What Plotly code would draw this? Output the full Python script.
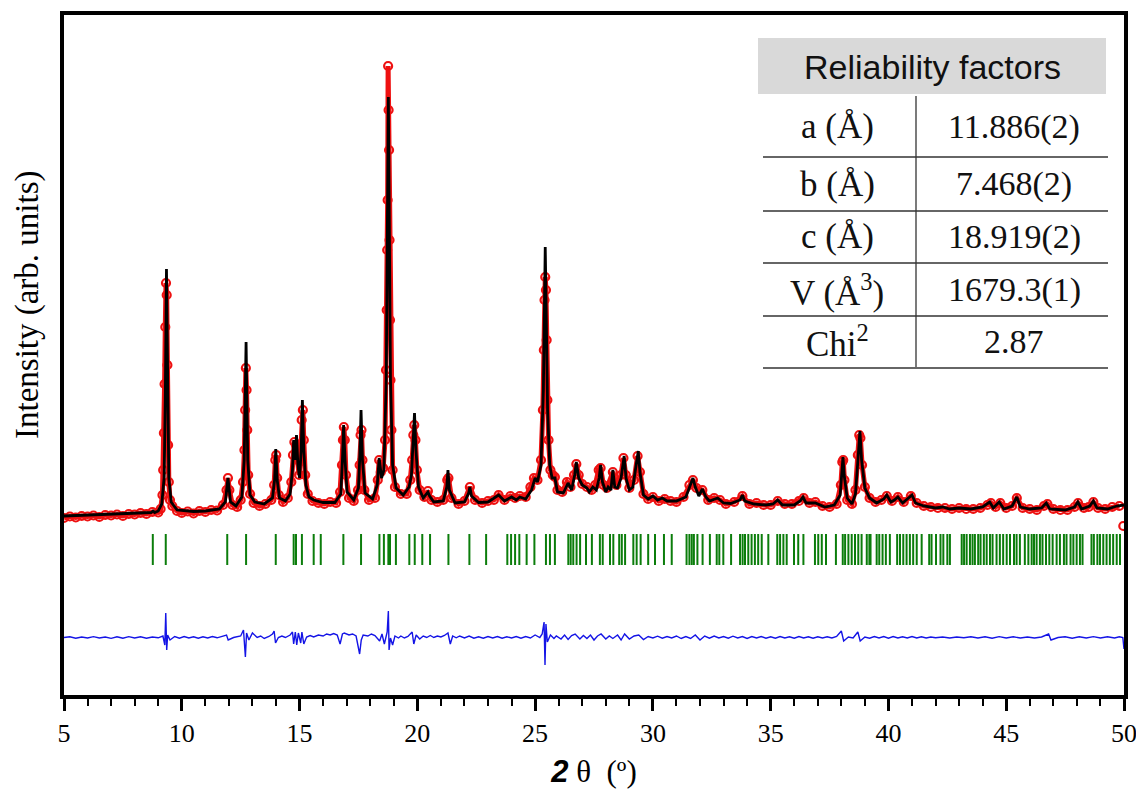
import plotly.graph_objects as go

# ---------------- data ----------------
# calculated profile: (2theta, intensity)
calc_points = [
    (5.0, 40), (6.0, 50), (7.0, 55), (8.0, 65), (8.7, 75), (8.78, 90), (8.85, 75), (9.0, 90),
    (9.15, 160), (9.25, 420), (9.30, 1200), (9.35, 2510), (9.40, 1200), (9.45, 420), (9.55, 180),
    (9.8, 100), (10.5, 85), (11.0, 90), (11.6, 110), (11.85, 180), (11.96, 420), (12.07, 180),
    (12.3, 140), (12.55, 230), (12.65, 600), (12.73, 1780), (12.80, 600), (12.9, 250), (13.1, 180),
    (13.5, 160), (13.85, 220), (13.94, 400), (13.99, 710), (14.05, 400), (14.15, 220), (14.4, 190),
    (14.6, 260), (14.70, 500), (14.75, 800), (14.80, 600), (14.87, 850), (14.93, 550), (15.0, 420),
    (15.07, 700), (15.12, 1200), (15.18, 700), (15.27, 350), (15.4, 230), (15.6, 200), (16.0, 175),
    (16.5, 175), (16.75, 260), (16.82, 600), (16.87, 950), (16.93, 600), (17.02, 280), (17.3, 200),
    (17.5, 320), (17.56, 650), (17.61, 1100), (17.67, 600), (17.78, 270), (18.1, 210), (18.3, 350),
    (18.38, 620), (18.48, 420), (18.58, 500), (18.68, 1400), (18.74, 3300), (18.77, 4230),
    (18.80, 3300), (18.86, 1400), (18.95, 550), (19.1, 320), (19.4, 250), (19.65, 330), (19.75, 450),
    (19.83, 800), (19.88, 1070), (19.94, 700), (20.05, 330), (20.25, 220), (20.40, 260), (20.45, 280),
    (20.52, 240), (20.7, 180), (21.1, 190), (21.25, 330), (21.30, 500), (21.36, 300), (21.6, 170),
    (22.0, 180), (22.18, 270), (22.23, 330), (22.3, 240), (22.6, 175), (23.0, 180), (23.45, 250),
    (23.7, 190), (24.0, 230), (24.2, 200), (24.35, 230), (24.6, 210), (24.85, 300), (25.0, 420),
    (25.1, 380), (25.25, 550), (25.35, 1300), (25.40, 2200), (25.43, 2730), (25.47, 2100),
    (25.53, 1100), (25.62, 550), (25.72, 420), (25.84, 420), (25.95, 280), (26.2, 270), (26.4, 370),
    (26.55, 300), (26.68, 450), (26.75, 580), (26.85, 420), (27.0, 350), (27.2, 320), (27.3, 280),
    (27.45, 330), (27.6, 300), (27.72, 420), (27.78, 550), (27.86, 380), (28.0, 280), (28.1, 330),
    (28.22, 300), (28.30, 500), (28.38, 330), (28.5, 320), (28.65, 420), (28.72, 550), (28.78, 640),
    (28.86, 420), (29.0, 300), (29.15, 330), (29.3, 560), (29.38, 690), (29.45, 480), (29.6, 250),
    (29.8, 210), (30.0, 240), (30.2, 200), (30.4, 220), (30.6, 190), (31.0, 190), (31.4, 230),
    (31.6, 360), (31.7, 420), (31.8, 330), (31.95, 240), (32.1, 310), (32.25, 230), (32.4, 190),
    (32.75, 220), (33.0, 170), (33.3, 165), (33.7, 200), (33.8, 250), (33.9, 190), (34.3, 160),
    (34.8, 150), (35.1, 160), (35.3, 200), (35.5, 150), (36.0, 150), (36.25, 190), (36.37, 230),
    (36.5, 170), (36.9, 170), (37.3, 130), (37.7, 150), (37.95, 250), (38.03, 500), (38.07, 630),
    (38.12, 450), (38.25, 220), (38.45, 160), (38.6, 260), (38.72, 650), (38.79, 890), (38.86, 600),
    (39.0, 320), (39.2, 220), (39.5, 170), (39.8, 210), (39.93, 250), (40.1, 180), (40.25, 200),
    (40.4, 230), (40.6, 170), (40.85, 220), (41.0, 250), (41.15, 170), (41.5, 140), (42.0, 120),
    (42.3, 130), (42.6, 110), (43.0, 120), (43.5, 110), (44.0, 130), (44.3, 180), (44.45, 120),
    (44.7, 180), (44.9, 110), (45.25, 140), (45.45, 230), (45.6, 130), (46.0, 110), (46.5, 120),
    (46.7, 170), (46.85, 110), (47.5, 100), (47.9, 130), (48.04, 180), (48.2, 110), (48.55, 140),
    (48.7, 190), (48.85, 120), (49.3, 110), (49.7, 140), (50.0, 150),
]

# observed points: (2theta, intensity)
obs_points = [
    (5.0, 20), (5.25, 35), (5.5, 25), (5.75, 40), (6.0, 35), (6.25, 45), (6.5, 30), (6.75, 50),
    (7.0, 45), (7.25, 55), (7.5, 40), (7.75, 60), (8.0, 55), (8.25, 70), (8.5, 60), (8.75, 80),
    (9.0, 75), (9.1, 110), (9.18, 250), (9.21, 500), (9.24, 870), (9.27, 1360), (9.30, 1930),
    (9.33, 2370), (9.36, 2250), (9.39, 1550), (9.42, 750), (9.45, 380), (9.5, 200), (9.6, 140),
    (9.8, 90), (10.0, 70), (10.25, 85), (10.5, 65), (10.75, 90), (11.0, 80), (11.25, 100),
    (11.5, 95), (11.75, 150), (11.90, 300), (11.96, 420), (12.02, 300), (12.15, 150), (12.35, 130),
    (12.5, 200), (12.6, 380), (12.66, 700), (12.69, 1100), (12.72, 1520), (12.75, 1300),
    (12.78, 900), (12.82, 450), (12.9, 260), (13.05, 170), (13.3, 140), (13.55, 160), (13.8, 200),
    (13.92, 350), (13.97, 600), (14.01, 650), (14.05, 420), (14.12, 250), (14.3, 180), (14.5, 220),
    (14.65, 380), (14.72, 650), (14.78, 780), (14.85, 750), (14.92, 600), (14.98, 450),
    (15.04, 650), (15.09, 1000), (15.14, 1100), (15.18, 800), (15.24, 450), (15.35, 260),
    (15.55, 190), (15.8, 170), (16.05, 160), (16.3, 180), (16.55, 170), (16.72, 280), (16.8, 550),
    (16.84, 800), (16.88, 930), (16.92, 800), (16.97, 450), (17.1, 220), (17.3, 190), (17.48, 300),
    (17.55, 550), (17.59, 850), (17.63, 900), (17.67, 600), (17.75, 300), (17.95, 200),
    (18.2, 220), (18.32, 400), (18.38, 600), (18.45, 480), (18.55, 520), (18.63, 800),
    (18.67, 1500), (18.70, 2100), (18.72, 2700), (18.74, 3200), (18.76, 4540), (18.78, 4100),
    (18.80, 3700), (18.82, 2800), (18.84, 2000), (18.86, 1400), (18.9, 900), (18.95, 500),
    (19.05, 330), (19.3, 260), (19.55, 260), (19.7, 400), (19.78, 600), (19.83, 850), (19.87, 950),
    (19.92, 800), (19.98, 500), (20.1, 300), (20.3, 230), (20.45, 290), (20.6, 200), (20.85, 180),
    (21.1, 200), (21.27, 400), (21.32, 420), (21.45, 220), (21.75, 160), (22.0, 190), (22.23, 330),
    (22.45, 200), (22.75, 170), (23.0, 190), (23.25, 200), (23.45, 250), (23.7, 200), (23.95, 240),
    (24.15, 220), (24.35, 240), (24.6, 230), (24.8, 330), (24.95, 420), (25.1, 400), (25.25, 600),
    (25.33, 1100), (25.37, 1700), (25.40, 2200), (25.43, 2430), (25.46, 2300), (25.49, 1800),
    (25.52, 1200), (25.57, 800), (25.65, 500), (25.75, 450), (25.84, 430), (25.95, 300),
    (26.15, 280), (26.35, 380), (26.5, 330), (26.65, 450), (26.75, 560), (26.85, 450), (27.0, 360),
    (27.2, 330), (27.4, 300), (27.55, 350), (27.7, 500), (27.78, 520), (27.9, 350), (28.05, 320),
    (28.3, 480), (28.45, 350), (28.65, 450), (28.75, 620), (28.85, 450), (29.0, 320), (29.2, 400),
    (29.35, 640), (29.45, 480), (29.6, 260), (29.8, 210), (30.0, 230), (30.25, 190), (30.5, 210),
    (30.75, 190), (31.0, 180), (31.3, 230), (31.55, 350), (31.7, 400), (31.85, 320), (32.1, 300),
    (32.35, 200), (32.6, 220), (32.85, 200), (33.1, 160), (33.45, 180), (33.8, 240), (34.1, 160),
    (34.4, 170), (34.7, 150), (35.0, 150), (35.3, 190), (35.6, 160), (35.9, 160), (36.2, 190),
    (36.4, 220), (36.65, 170), (36.9, 180), (37.2, 140), (37.5, 130), (37.8, 160), (37.98, 350),
    (38.04, 580), (38.08, 600), (38.13, 400), (38.25, 200), (38.45, 160), (38.6, 300), (38.7, 650),
    (38.76, 850), (38.81, 820), (38.88, 550), (39.0, 330), (39.2, 220), (39.45, 180), (39.7, 200),
    (39.93, 240), (40.15, 190), (40.4, 230), (40.65, 180), (40.95, 240), (41.2, 170), (41.5, 140),
    (41.8, 130), (42.1, 120), (42.4, 120), (42.7, 110), (43.0, 120), (43.3, 110), (43.6, 110),
    (43.9, 120), (44.2, 150), (44.35, 170), (44.55, 130), (44.75, 170), (45.0, 120), (45.25, 140),
    (45.45, 220), (45.7, 120), (46.0, 110), (46.3, 100), (46.6, 140), (46.75, 160), (47.0, 110),
    (47.3, 100), (47.6, 100), (47.9, 130), (48.05, 170), (48.3, 120), (48.5, 130), (48.7, 180),
    (48.9, 120), (49.2, 110), (49.5, 130), (49.8, 140), (49.97, -60),
]

# difference curve (obs - calc, offset): (2theta, intensity)
diff_points = [
    (5.0, -1175), (5.25, -1168), (5.5, -1182), (5.75, -1170), (6.0, -1180), (6.25, -1166),
    (6.5, -1180), (6.75, -1170), (7.0, -1184), (7.25, -1168), (7.5, -1182), (7.75, -1166),
    (8.0, -1180), (8.25, -1168), (8.5, -1182), (8.75, -1170), (9.0, -1178), (9.2, -1160),
    (9.28, -1250), (9.32, -930), (9.36, -1300), (9.40, -1150), (9.5, -1200), (9.7, -1165),
    (9.9, -1182), (10.1, -1166), (10.3, -1180), (10.5, -1168), (10.7, -1182), (10.9, -1168),
    (11.1, -1180), (11.3, -1166), (11.5, -1178), (11.7, -1165), (11.9, -1150), (11.97, -1200),
    (12.2, -1175), (12.5, -1160), (12.62, -1100), (12.70, -1370), (12.75, -1130), (12.85, -1200),
    (13.0, -1130), (13.2, -1175), (13.35, -1160), (13.5, -1185), (13.7, -1165), (13.85, -1140),
    (13.92, -1110), (13.98, -1230), (14.1, -1175), (14.25, -1160), (14.4, -1175), (14.6, -1150),
    (14.7, -1120), (14.75, -1240), (14.82, -1120), (14.88, -1250), (14.95, -1130), (15.05, -1230),
    (15.1, -1120), (15.18, -1240), (15.3, -1170), (15.45, -1155), (15.6, -1170), (15.8, -1150),
    (16.0, -1160), (16.15, -1140), (16.3, -1150), (16.45, -1135), (16.6, -1150), (16.72, -1240),
    (16.82, -1140), (16.9, -1130), (17.1, -1150), (17.25, -1140), (17.4, -1160), (17.55, -1340),
    (17.62, -1200), (17.7, -1150), (17.9, -1160), (18.05, -1140), (18.2, -1155), (18.4, -1210),
    (18.5, -1140), (18.6, -1240), (18.72, -1120), (18.77, -910), (18.8, -1300), (18.86, -1180),
    (18.95, -1250), (19.05, -1160), (19.2, -1180), (19.3, -1160), (19.45, -1180), (19.6, -1165),
    (19.78, -1120), (19.85, -1240), (19.95, -1150), (20.1, -1190), (20.25, -1160), (20.4, -1175),
    (20.55, -1155), (20.7, -1175), (20.85, -1160), (21.0, -1170), (21.15, -1155), (21.3, -1130),
    (21.4, -1240), (21.5, -1160), (21.65, -1178), (21.8, -1160), (22.0, -1180), (22.2, -1160),
    (22.4, -1182), (22.6, -1168), (22.8, -1182), (23.0, -1165), (23.2, -1180), (23.4, -1165),
    (23.6, -1182), (23.8, -1168), (24.0, -1180), (24.2, -1165), (24.4, -1182), (24.6, -1165),
    (24.8, -1180), (25.0, -1150), (25.2, -1175), (25.3, -1140), (25.38, -1020), (25.42, -1450),
    (25.46, -1040), (25.52, -1220), (25.65, -1150), (25.8, -1185), (25.9, -1160), (26.1, -1190),
    (26.25, -1150), (26.4, -1195), (26.55, -1155), (26.7, -1140), (26.9, -1190), (27.05, -1155),
    (27.2, -1185), (27.35, -1150), (27.5, -1200), (27.65, -1160), (27.8, -1140), (28.0, -1190),
    (28.15, -1160), (28.3, -1185), (28.5, -1150), (28.65, -1200), (28.8, -1140), (29.0, -1190),
    (29.2, -1160), (29.4, -1150), (29.6, -1195), (29.8, -1165), (30.0, -1180), (30.2, -1162),
    (30.4, -1182), (30.6, -1165), (30.8, -1180), (31.0, -1160), (31.2, -1185), (31.4, -1165),
    (31.6, -1185), (31.8, -1150), (32.0, -1200), (32.2, -1160), (32.4, -1182), (32.6, -1160),
    (32.8, -1180), (33.0, -1165), (33.2, -1182), (33.4, -1162), (33.6, -1180), (33.8, -1165),
    (34.0, -1185), (34.2, -1165), (34.4, -1180), (34.6, -1165), (34.8, -1182), (35.0, -1168),
    (35.2, -1182), (35.4, -1165), (35.6, -1180), (35.8, -1168), (36.0, -1182), (36.2, -1166),
    (36.4, -1180), (36.6, -1168), (36.8, -1182), (37.0, -1168), (37.2, -1180), (37.4, -1168),
    (37.6, -1180), (37.8, -1165), (38.0, -1110), (38.1, -1210), (38.3, -1170), (38.5, -1180),
    (38.7, -1120), (38.8, -1210), (39.0, -1170), (39.2, -1182), (39.4, -1166), (39.6, -1180),
    (39.8, -1166), (40.0, -1182), (40.2, -1166), (40.4, -1180), (40.6, -1168), (40.8, -1180),
    (41.0, -1166), (41.2, -1180), (41.4, -1168), (41.6, -1180), (41.8, -1170), (42.0, -1178),
    (42.3, -1170), (42.6, -1180), (42.9, -1170), (43.2, -1178), (43.5, -1168), (43.8, -1180),
    (44.1, -1168), (44.4, -1182), (44.7, -1166), (45.0, -1180), (45.3, -1168), (45.6, -1180),
    (45.9, -1170), (46.2, -1180), (46.5, -1170), (46.8, -1140), (46.9, -1200), (47.2, -1175),
    (47.5, -1168), (47.8, -1182), (48.1, -1168), (48.4, -1180), (48.7, -1166), (49.0, -1180),
    (49.3, -1168), (49.6, -1180), (49.8, -1168), (49.95, -1175), (50.0, -1290),
]

# Bragg reflection positions (2theta)
bragg_positions = [
    8.77, 9.32, 11.93, 12.73, 13.99, 14.75, 14.85, 15.10, 15.60, 15.90, 16.86, 17.61, 18.39,
    18.58, 18.77, 18.84, 19.09, 19.66, 19.89, 20.21, 20.54, 21.32, 22.21, 22.92, 23.82, 23.98,
    24.15, 24.33, 24.64, 24.97, 25.46, 25.63, 25.84, 26.41, 26.51, 26.62, 26.76, 26.91, 27.16,
    27.41, 27.75, 27.87, 28.18, 28.32, 28.57, 28.68, 28.82, 29.17, 29.31, 29.48, 29.80, 30.09,
    30.47, 30.80, 31.43, 31.55, 31.65, 31.74, 31.89, 32.11, 32.42, 32.71, 32.82, 32.99, 33.32,
    33.70, 33.81, 33.91, 34.05, 34.19, 34.33, 34.47, 34.62, 34.90, 35.28, 35.40, 35.54, 35.68,
    35.99, 36.17, 36.39, 36.88, 37.02, 37.17, 37.35, 37.77, 38.06, 38.16, 38.30, 38.44, 38.58,
    38.72, 38.86, 39.08, 39.19, 39.24, 39.50, 39.61, 39.75, 39.89, 40.06, 40.37, 40.49, 40.63,
    40.77, 40.91, 41.05, 41.20, 41.41, 41.73, 41.83, 42.02, 42.21, 42.33, 42.50, 42.61, 43.11,
    43.21, 43.32, 43.46, 43.57, 43.67, 43.81, 43.91, 44.05, 44.17, 44.31, 44.42, 44.59, 44.73,
    44.87, 45.02, 45.16, 45.33, 45.44, 45.58, 45.79, 45.94, 46.08, 46.18, 46.29, 46.43, 46.54,
    46.69, 46.83, 46.97, 47.14, 47.28, 47.45, 47.56, 47.73, 47.85, 47.99, 48.13, 48.24, 48.62,
    48.72, 48.87, 48.98, 49.12, 49.26, 49.40, 49.54, 49.69, 49.83,
]
bragg_top = -140
bragg_bottom = -450

x_tick_values = [5, 10, 15, 20, 25, 30, 35, 40, 45, 50]

y_title = "Intensity (arb. units)"
table_title = "Reliability factors"
table_labels = ["a (Å)", "b (Å)", "c (Å)", "V (Å<sup>3</sup>)", "Chi<sup>2</sup>"]
table_values = ["11.886(2)", "7.468(2)", "18.919(2)", "1679.3(1)", "2.87"]

# ---------------- figure ----------------
calc_x = [p[0] for p in calc_points]
calc_y = [p[1] for p in calc_points]
obs_x = [p[0] for p in obs_points]
obs_y = [p[1] for p in obs_points]
diff_x = [p[0] for p in diff_points]
diff_y = [p[1] for p in diff_points]

bx, by = [], []
for p in bragg_positions:
    bx += [p, p, None]
    by += [bragg_top, bragg_bottom, None]

fig = go.Figure()
fig.add_trace(go.Scatter(x=bx, y=by, mode="lines",
                         line=dict(color="#0b7d0b", width=2), hoverinfo="skip",
                         showlegend=False))
fig.add_trace(go.Scatter(x=diff_x, y=diff_y, mode="lines",
                         line=dict(color="#1414e6", width=1.4), showlegend=False))
fig.add_trace(go.Scatter(x=obs_x[:-1], y=obs_y[:-1], mode="lines",
                         line=dict(color="#ee1111", width=5), showlegend=False))
fig.add_trace(go.Scatter(x=obs_x, y=obs_y, mode="markers",
                         marker=dict(symbol="circle-open", size=8, color="#ee1111",
                                     line=dict(width=2.2, color="#ee1111")),
                         showlegend=False))
fig.add_trace(go.Scatter(x=calc_x, y=calc_y, mode="lines",
                         line=dict(color="black", width=2.8), showlegend=False))

# layout geometry (pixels of the 1144 x 803 page; the page body adds an 8 px offset)
OFF = 8
L, R, T, B = 64, 1124, 15, 695
W, H = R - L, B - T
FIG_W, FIG_H = 1144 - OFF, 803 - OFF


def px(x):
    return (x - L) / W


def py(y):
    return (B - y) / H


shapes = []
annotations = []
# y-axis title (placed like the reference, above the plot centre)
annotations.append(dict(xref="paper", yref="paper", x=px(27), y=py(305),
                        text=y_title, showarrow=False, textangle=-90,
                        font=dict(family="Liberation Serif, Times New Roman", size=33,
                                  color="black"),
                        xanchor="center", yanchor="middle"))
# table header box
shapes.append(dict(type="rect", xref="paper", yref="paper",
                   x0=px(758), x1=px(1106), y0=py(94), y1=py(38),
                   fillcolor="#d9d9d9", line=dict(width=0), layer="below"))
annotations.append(dict(xref="paper", yref="paper", x=px(932), y=py(67),
                        text=table_title, showarrow=False,
                        font=dict(family="Liberation Sans, Arial", size=34, color="#111111"),
                        xanchor="center", yanchor="middle"))
row_lines = [157, 211, 263, 316, 368]
row_centers = [127, 184, 237, 290, 342]
for yl in row_lines:
    shapes.append(dict(type="line", xref="paper", yref="paper",
                       x0=px(763), x1=px(1108), y0=py(yl), y1=py(yl),
                       line=dict(color="#333333", width=1.3)))
shapes.append(dict(type="line", xref="paper", yref="paper",
                   x0=px(916), x1=px(916), y0=py(96), y1=py(367),
                   line=dict(color="#333333", width=1.3)))
for lab, val, yc in zip(table_labels, table_values, row_centers):
    annotations.append(dict(xref="paper", yref="paper", x=px(837), y=py(yc),
                            text=lab, showarrow=False,
                            font=dict(family="Liberation Serif, Times New Roman", size=35,
                                      color="#111111"),
                            xanchor="center", yanchor="middle"))
    annotations.append(dict(xref="paper", yref="paper", x=px(1014), y=py(yc),
                            text=val, showarrow=False,
                            font=dict(family="Liberation Serif, Times New Roman", size=34,
                                      color="#111111"),
                            xanchor="center", yanchor="middle"))

fig.update_layout(
    width=FIG_W, height=FIG_H,
    margin=dict(l=L - OFF, r=1144 - R, t=T - OFF, b=803 - B),
    paper_bgcolor="white", plot_bgcolor="white",
    showlegend=False,
    shapes=shapes, annotations=annotations,
    xaxis=dict(
        range=[5, 50], tickvals=x_tick_values,
        showgrid=False, zeroline=False, automargin=False,
        showline=True, linecolor="black", linewidth=3.5, mirror=True,
        ticks="outside", ticklen=12, tickwidth=2.5, tickcolor="black",
        minor=dict(dtick=1, ticks="outside", ticklen=7, tickwidth=1.8, tickcolor="black"),
        tickfont=dict(family="Liberation Serif, Times New Roman", size=26, color="black"),
        title=dict(text="<span style='font-family:Liberation Sans;font-weight:bold'><i>2</i></span> θ  (º)",
                   font=dict(family="Liberation Serif, Times New Roman", size=31, color="black"),
                   standoff=14),
    ),
    yaxis=dict(
        range=[-1750, 5050],
        showgrid=False, zeroline=False, showticklabels=False, ticks="", automargin=False,
        showline=True, linecolor="black", linewidth=3.5, mirror=True,
    ),
)

fig.write_html("out.html")
